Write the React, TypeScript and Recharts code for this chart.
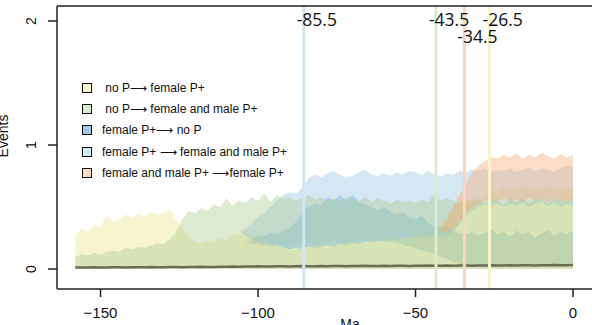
import React from "react";
import { Area, ComposedChart, Line, ReferenceLine, XAxis, YAxis } from "recharts";

// time grid (Ma)
const ma = [
  -158, -156, -154, -152, -150, -148, -146, -144, -142, -140,
  -138, -136, -134, -132, -130, -128, -126, -124, -122, -120,
  -118, -116, -114, -112, -110, -108, -106, -104, -102, -100,
  -98, -96, -94, -92, -90, -88, -86, -84, -82, -80,
  -78, -76, -74, -72, -70, -68, -66, -64, -62, -60,
  -58, -56, -54, -52, -50, -48, -46, -44, -42, -40,
  -38, -36, -34, -32, -30, -28, -26, -24, -22, -20,
  -18, -16, -14, -12, -10, -8, -6, -4, -2, 0,
];

// no P -> female P+
const noPFemHi = [
  0.27, 0.33, 0.3, 0.36, 0.34, 0.43, 0.38, 0.4, 0.44, 0.41,
  0.45, 0.42, 0.46, 0.44, 0.45, 0.48, 0.4, 0.33, 0.26, 0.22,
  0.21, 0.23, 0.22, 0.25, 0.24, 0.28, 0.27, 0.3, 0.27, 0.25,
  0.22, 0.21, 0.18, 0.17, 0.15, 0.16, 0.16, 0.18, 0.17, 0.19,
  0.17, 0.2, 0.19, 0.21, 0.2, 0.22, 0.21, 0.23, 0.22, 0.24,
  0.23, 0.25, 0.24, 0.27, 0.26, 0.28, 0.27, 0.3, 0.36, 0.44,
  0.5, 0.54, 0.53, 0.56, 0.55, 0.58, 0.64, 0.62, 0.66, 0.63,
  0.65, 0.67, 0.63, 0.66, 0.64, 0.67, 0.65, 0.63, 0.66, 0.65,
];

// no P -> female and male P+
const noPBothHi = [
  0.1, 0.12, 0.11, 0.13, 0.12, 0.14, 0.15, 0.14, 0.17, 0.16,
  0.18, 0.17, 0.19, 0.21, 0.2, 0.24, 0.3, 0.4, 0.47, 0.45,
  0.49, 0.47, 0.52, 0.5, 0.57, 0.51, 0.55, 0.53, 0.58, 0.55,
  0.61, 0.54, 0.6, 0.56, 0.58, 0.55, 0.57, 0.6, 0.56, 0.58,
  0.55, 0.57, 0.54, 0.58, 0.56, 0.55, 0.58, 0.54, 0.57, 0.55,
  0.53, 0.56, 0.54, 0.55, 0.53, 0.56, 0.54, 0.6, 0.55, 0.57,
  0.55, 0.53, 0.56, 0.54, 0.57, 0.53, 0.56, 0.55, 0.52, 0.56,
  0.54, 0.57, 0.53, 0.55, 0.56, 0.53, 0.57, 0.55, 0.56, 0.58,
];

// female P+ -> no P
const femNoPLo = [
  ...Array(27).fill(null), 0.21, 0.2, 0.2,
  0.19, 0.18, 0.19, 0.17, 0.16, 0.17, 0.16, 0.18, 0.17, 0.18,
  0.19, 0.18, 0.2, 0.19, 0.21, 0.2, 0.22, 0.21, 0.23, 0.22,
  0.22, 0.21, 0.2, 0.18, 0.17, 0.15, 0.14, 0.12, 0.1, 0.08,
  0.06, 0.04, 0.03, 0.02, 0.03, 0.02, 0.02, 0.03, 0.02, 0.02,
  0.03, 0.02, 0.02, 0.03, 0.02, 0.02, 0.03, 0.02, 0.02, 0.03,
];
const femNoPHi = [
  ...Array(27).fill(null), 0.21, 0.24, 0.27,
  0.27, 0.29, 0.28, 0.31, 0.33, 0.38, 0.45, 0.5, 0.53, 0.51,
  0.58, 0.55, 0.6, 0.55, 0.6, 0.54, 0.52, 0.5, 0.48, 0.5,
  0.46, 0.44, 0.46, 0.41, 0.4, 0.43, 0.37, 0.35, 0.34, 0.33,
  0.31, 0.29, 0.28, 0.3, 0.27, 0.29, 0.32, 0.28, 0.3, 0.26,
  0.31, 0.28, 0.3, 0.25, 0.29, 0.31, 0.27, 0.3, 0.28, 0.31,
];

// female P+ -> female and male P+
const femBothLo = [
  ...Array(26).fill(null), 0.3, 0.27, 0.24, 0.22,
  0.21, 0.2, 0.2, 0.19, 0.2, 0.19, 0.2, 0.21, 0.2, 0.21,
  0.2, 0.22, 0.21, 0.22, 0.21, 0.23, 0.22, 0.23, 0.22, 0.24,
  0.23, 0.24, 0.25, 0.24, 0.26, 0.25, 0.26, 0.27, 0.26, 0.27,
  0.3, 0.36, 0.42, 0.47, 0.5, 0.52, 0.51, 0.53, 0.5, 0.52,
  0.51, 0.53, 0.5, 0.52, 0.54, 0.51, 0.53, 0.5, 0.52, 0.51,
];
const femBothHi = [
  ...Array(26).fill(null), 0.3, 0.33, 0.37, 0.42,
  0.45, 0.5, 0.55, 0.6, 0.62, 0.61, 0.66, 0.73, 0.76, 0.74,
  0.77, 0.79, 0.76, 0.74, 0.75, 0.78, 0.8, 0.76, 0.75, 0.77,
  0.75, 0.78, 0.76, 0.79, 0.78, 0.76, 0.79, 0.76, 0.75, 0.77,
  0.76, 0.79, 0.78, 0.8, 0.79, 0.81, 0.78, 0.8, 0.79, 0.81,
  0.78, 0.8, 0.82, 0.79, 0.81, 0.8, 0.78, 0.81, 0.83, 0.82,
];

// female and male P+ -> female P+
const bothFemLo = [
  ...Array(58).fill(null), 0.3, 0.3,
  0.32, 0.38, 0.45, 0.5, 0.53, 0.55, 0.56, 0.54, 0.57, 0.55,
  0.56, 0.54, 0.57, 0.55, 0.56, 0.54, 0.57, 0.55, 0.56, 0.55,
];
const bothFemHi = [
  ...Array(58).fill(null), 0.32, 0.4,
  0.5, 0.6, 0.68, 0.78, 0.83, 0.87, 0.9, 0.89, 0.92, 0.9,
  0.93, 0.89, 0.92, 0.9, 0.94, 0.91, 0.89, 0.93, 0.9, 0.92,
];

// median line along the bottom
const median = [
  0.012, 0.013, 0.012, 0.014, 0.013, 0.012, 0.014, 0.015, 0.013, 0.014,
  0.015, 0.014, 0.016, 0.015, 0.014, 0.016, 0.017, 0.015, 0.016, 0.017,
  0.018, 0.016, 0.017, 0.019, 0.018, 0.02, 0.019, 0.021, 0.02, 0.022,
  0.021, 0.02, 0.022, 0.023, 0.021, 0.022, 0.024, 0.023, 0.022, 0.024,
  0.023, 0.025, 0.024, 0.023, 0.025, 0.024, 0.026, 0.025, 0.024, 0.026,
  0.025, 0.027, 0.026, 0.025, 0.027, 0.026, 0.028, 0.027, 0.026, 0.028,
  0.027, 0.029, 0.028, 0.027, 0.029, 0.028, 0.03, 0.029, 0.028, 0.03,
  0.029, 0.031, 0.03, 0.029, 0.031, 0.03, 0.032, 0.031, 0.03, 0.032,
];

const shifts = [
  { x: -85.5, label: "-85.5", color: "#d2e5f2", row: 0 },
  { x: -43.5, label: "-43.5", color: "#dcebd0", row: 0 },
  { x: -34.5, label: "-34.5", color: "#fad6bc", row: 1 },
  { x: -26.5, label: "-26.5", color: "#f8f5c9", row: 0 },
];

const legendItems = [
  { name: " no P\u27F6 female P+", color: "#faf7d0" },
  { name: " no P\u27F6 female and male P+", color: "#dcebcf" },
  { name: "female P+\u27F6 no P", color: "#a8c7df" },
  { name: "female P+ \u27F6 female and male P+", color: "#d5e8f4" },
  { name: "female and male P+ \u27F6female P+", color: "#fcddc3" },
];

const pick = (lo: (number | null)[], hi: (number | null)[], i: number) =>
  lo[i] == null || hi[i] == null ? null : [lo[i], hi[i]];

const rows = ma.map((t, i) => ({
  t,
  noPFem: noPFemHi[i],
  noPBoth: noPBothHi[i],
  femNoP: pick(femNoPLo, femNoPHi, i),
  femBoth: pick(femBothLo, femBothHi, i),
  bothFem: pick(bothFemLo, bothFemHi, i),
  median: median[i],
}));

const X_DOMAIN: [number, number] = [-163.81, 14.92];
const Y_DOMAIN: [number, number] = [-0.161, 2.121];
const axisStroke = { stroke: "#222", strokeWidth: 1.5 };
const font = "'Liberation Sans', Arial, sans-serif";

function XTick(props: any) {
  const v = props.payload.value;
  return (
    <text x={props.x} y={318} textAnchor="middle" fontSize={15} fontFamily={font} fill="#111">
      {v < 0 ? "\u2212" + Math.abs(v) : String(v)}
    </text>
  );
}

function YTick(props: any) {
  return (
    <text
      transform={`translate(35.5, ${props.y}) rotate(-90)`}
      textAnchor="middle"
      fontSize={14}
      fontFamily={font}
      fill="#111"
    >
      {props.payload.value}
    </text>
  );
}

export default function App() {
  const area = { type: "linear" as const, stroke: "none", fillOpacity: 0.4, isAnimationActive: false, dot: false, activeDot: false };
  return (
    <div style={{ position: "absolute", left: 0, top: 0, width: 592, height: 325, overflow: "hidden", background: "#fff" }}>
      <ComposedChart width={620} height={325} data={rows} margin={{ top: 6, right: 0, bottom: 0, left: 0 }}>
        <XAxis
          dataKey="t"
          type="number"
          domain={X_DOMAIN}
          allowDataOverflow
          ticks={[-150, -100, -50, 0]}
          height={36}
          tickSize={8}
          axisLine={axisStroke}
          tickLine={axisStroke}
          tick={XTick}
        />
        <YAxis
          type="number"
          domain={Y_DOMAIN}
          allowDataOverflow
          ticks={[0, 1, 2]}
          width={57}
          tickSize={9}
          axisLine={axisStroke}
          tickLine={axisStroke}
          tick={YTick}
        />
        <Area dataKey="femNoP" fill="#55a0d6" {...area} />
        <Area dataKey="noPFem" fill="#ebe48a" baseValue={0} {...area} />
        <Area dataKey="femBoth" fill="#96c3e1" {...area} />
        <Area dataKey="noPBoth" fill="#aaca8e" baseValue={0} {...area} />
        <Area dataKey="bothFem" fill="#f7a76b" {...area} />
        <Line dataKey="median" stroke="#6d6c55" strokeWidth={2.5} dot={false} activeDot={false} isAnimationActive={false} />
        {shifts.map((s) => (
          <ReferenceLine key={"l" + s.label} x={s.x} stroke={s.color} strokeWidth={3} />
        ))}
        {shifts.map((s) => (
          <ReferenceLine
            key={"t" + s.label}
            x={s.x}
            stroke="none"
            label={(p: any) => (
              <text
                x={p.viewBox.x - 7}
                y={s.row === 0 ? 26 : 43}
                fontSize={17.5}
                fontFamily="'Open Sans', sans-serif"
                fill="#111"
              >
                {s.label}
              </text>
            )}
          />
        ))}
        <ReferenceLine y={Y_DOMAIN[1]} stroke="#222" strokeWidth={1.5} />
      </ComposedChart>
      <svg width={592} height={325} style={{ position: "absolute", left: 0, top: 0, pointerEvents: "none" }}>
        <text transform="translate(7.5, 136) rotate(-90)" textAnchor="middle" fontSize={14} fontFamily={font} fill="#111">
          Events
        </text>
        <text x={350} y={329} textAnchor="middle" fontSize={14} fontFamily={font} fill="#111">
          Ma
        </text>
      </svg>
      <div style={{ position: "absolute", left: 82, top: 77, fontFamily: font, fontSize: 12, color: "#111" }}>
        {legendItems.map((it) => (
          <div key={it.name} style={{ display: "flex", alignItems: "center", height: 21.4, whiteSpace: "pre" }}>
            <span style={{ width: 8, height: 8, border: "1.5px solid #111", background: it.color, marginRight: 10 }} />
            <span>{it.name}</span>
          </div>
        ))}
      </div>
    </div>
  );
}
